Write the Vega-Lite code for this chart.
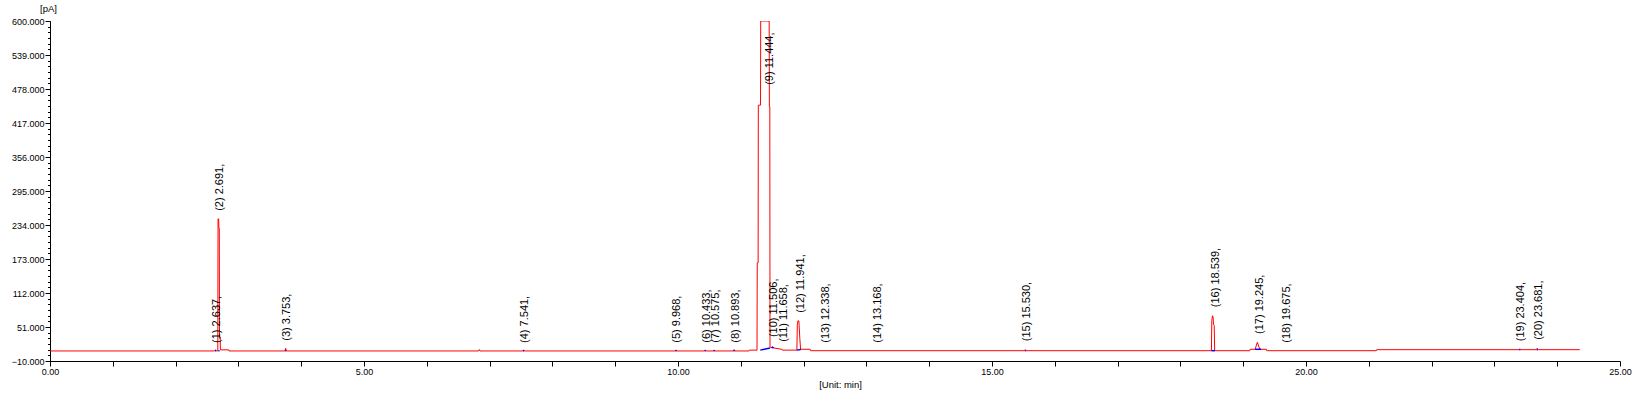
{
  "$schema": "https://vega.github.io/schema/vega-lite/v6.json",
  "width": 1570,
  "height": 340,
  "autosize": {"type": "none"},
  "padding": {"left": 50, "top": 21, "right": 16, "bottom": 34},
  "background": "white",
  "config": {
    "view": {"stroke": null},
    "font": "Liberation Sans",
    "axis": {"grid": false, "domainColor": "black", "tickColor": "black", "labelColor": "black", "titleColor": "black", "labelFont": "Liberation Sans", "titleFont": "Liberation Sans", "titleFontWeight": "normal"}
  },
  "datasets": {
    "trace": [
      {"t":0,"v":8},{"t":2.62,"v":8},{"t":2.635,"v":10},{"t":2.65,"v":8.5},{"t":2.672,"v":8},
      {"t":2.676,"v":245},{"t":2.686,"v":245},{"t":2.689,"v":228},{"t":2.696,"v":228},{"t":2.699,"v":33},
      {"t":2.71,"v":33},{"t":2.713,"v":10},{"t":2.848,"v":10},{"t":2.851,"v":8},
      {"t":3.74,"v":8},{"t":3.753,"v":13},{"t":3.766,"v":8},
      {"t":6.825,"v":8},{"t":6.836,"v":10.5},{"t":6.847,"v":8},
      {"t":7.53,"v":8},{"t":7.541,"v":10},{"t":7.552,"v":8},
      {"t":9.957,"v":8},{"t":9.968,"v":10},{"t":9.979,"v":8},
      {"t":10.422,"v":8},{"t":10.433,"v":10},{"t":10.444,"v":8},
      {"t":10.564,"v":8},{"t":10.575,"v":10},{"t":10.586,"v":8},
      {"t":10.88,"v":8},{"t":10.893,"v":10.5},{"t":10.906,"v":8},
      {"t":11.13,"v":8},{"t":11.136,"v":9.5},{"t":11.258,"v":9.5},
      {"t":11.262,"v":166},{"t":11.276,"v":166},{"t":11.279,"v":449},{"t":11.314,"v":449},
      {"t":11.317,"v":600},{"t":11.452,"v":600},{"t":11.455,"v":446},{"t":11.462,"v":446},
      {"t":11.465,"v":15},{"t":11.49,"v":14},{"t":11.505,"v":16},{"t":11.52,"v":13.5},
      {"t":11.655,"v":11},{"t":11.66,"v":9.5},
      {"t":11.893,"v":9.5},{"t":11.9,"v":55},{"t":11.91,"v":62},{"t":11.925,"v":62},{"t":11.94,"v":30},
      {"t":11.952,"v":11},{"t":12.105,"v":11},{"t":12.11,"v":8.5},
      {"t":15.52,"v":8.5},{"t":15.53,"v":10.5},{"t":15.54,"v":8.5},
      {"t":18.494,"v":8.5},{"t":18.5,"v":62},{"t":18.51,"v":71},{"t":18.52,"v":70},{"t":18.527,"v":56},
      {"t":18.538,"v":54},{"t":18.546,"v":9},{"t":18.552,"v":8.5},
      {"t":19.105,"v":8.5},{"t":19.11,"v":11},{"t":19.19,"v":11},{"t":19.225,"v":23.5},{"t":19.265,"v":11},
      {"t":19.37,"v":11},{"t":19.375,"v":8.5},
      {"t":21.12,"v":8.5},{"t":21.125,"v":10.3},
      {"t":23.39,"v":10.3},{"t":23.404,"v":12},{"t":23.418,"v":10.3},
      {"t":23.665,"v":10.3},{"t":23.681,"v":13},{"t":23.697,"v":10.3},
      {"t":24.36,"v":10.3}
    ],
    "base": [
      {"seg":1,"t":2.627,"v":8.5},{"seg":1,"t":2.647,"v":8.5},
      {"seg":2,"t":2.68,"v":8.5},{"seg":2,"t":2.7,"v":8.5},
      {"seg":3,"t":3.745,"v":8.5},{"seg":3,"t":3.762,"v":8.5},
      {"seg":4,"t":7.532,"v":8.5},{"seg":4,"t":7.55,"v":8.5},
      {"seg":5,"t":9.96,"v":8.5},{"seg":5,"t":9.977,"v":8.5},
      {"seg":6,"t":10.425,"v":8.5},{"seg":6,"t":10.442,"v":8.5},
      {"seg":7,"t":10.567,"v":8.5},{"seg":7,"t":10.584,"v":8.5},
      {"seg":8,"t":10.884,"v":8.5},{"seg":8,"t":10.902,"v":8.5},
      {"seg":9,"t":11.31,"v":9.5},{"seg":9,"t":11.465,"v":13.5},
      {"seg":10,"t":11.49,"v":14},{"seg":10,"t":11.525,"v":14},
      {"seg":11,"t":11.893,"v":9.5},{"seg":11,"t":11.955,"v":10.5},
      {"seg":12,"t":15.524,"v":8.5},{"seg":12,"t":15.537,"v":8.5},
      {"seg":13,"t":18.494,"v":8.5},{"seg":13,"t":18.55,"v":8.5},
      {"seg":14,"t":19.19,"v":11},{"seg":14,"t":19.285,"v":11},
      {"seg":15,"t":23.396,"v":10.3},{"seg":15,"t":23.412,"v":10.3},
      {"seg":16,"t":23.673,"v":10.3},{"seg":16,"t":23.69,"v":10.3}
    ],
    "peaks": [
      {"t":2.637,"v":9,"label":"(1) 2.637,"},
      {"t":2.691,"v":246,"label":"(2) 2.691,"},
      {"t":3.753,"v":13,"label":"(3) 3.753,"},
      {"t":7.541,"v":9,"label":"(4) 7.541,"},
      {"t":9.968,"v":9.4,"label":"(5) 9.968,"},
      {"t":10.433,"v":9.4,"label":"(6) 10.433,"},
      {"t":10.575,"v":9.4,"label":"(7) 10.575,"},
      {"t":10.893,"v":9.4,"label":"(8) 10.893,"},
      {"t":11.444,"v":472,"label":"(9) 11.444,"},
      {"t":11.506,"v":19.5,"label":"(10) 11.506,"},
      {"t":11.658,"v":11,"label":"(11) 11.658,"},
      {"t":11.941,"v":63,"label":"(12) 11.941,"},
      {"t":12.338,"v":9.4,"label":"(13) 12.338,"},
      {"t":13.168,"v":9.4,"label":"(14) 13.168,"},
      {"t":15.53,"v":12,"label":"(15) 15.530,"},
      {"t":18.539,"v":73,"label":"(16) 18.539,"},
      {"t":19.245,"v":25,"label":"(17) 19.245,"},
      {"t":19.675,"v":9.4,"label":"(18) 19.675,"},
      {"t":23.404,"v":12,"label":"(19) 23.404,"},
      {"t":23.681,"v":14.6,"label":"(20) 23.681,"}
    ]
  },
  "resolve": {"axis": {"x": "independent", "y": "independent"}},
  "layer": [
    {
      "data": {"name": "trace"},
      "mark": {"type": "line", "color": "#FF0000", "strokeWidth": 1, "clip": true},
      "encoding": {
        "x": {"field": "t", "type": "quantitative", "scale": {"domain": [0, 25], "nice": false, "zero": false},
          "axis": {"orient": "bottom", "values": [0,1,2,3,4,5,6,7,8,9,10,11,12,13,14,15,16,17,18,19,20,21,22,23,24,25],
            "labelExpr": "datum.value % 5 === 0 ? format(datum.value, '.2f') : ''",
            "tickSize": 5, "labelPadding": 1, "labelFontSize": 9, "labelFlush": false, "labelOverlap": false,
            "title": "[Unit: min]", "titleFontSize": 9.5, "titleX": 790, "titleY": 23, "titleAlign": "center", "titleBaseline": "middle"}},
        "y": {"field": "v", "type": "quantitative", "scale": {"domain": [-10, 600], "nice": false, "zero": false},
          "axis": {"orient": "left", "values": [-10,51,112,173,234,295,356,417,478,539,600], "format": ".3f",
            "tickSize": 5, "labelPadding": 1, "labelFontSize": 9, "labelOverlap": false, "labelFlush": false,
            "title": "[pA]", "titleAngle": 0, "titleFontSize": 9.5, "titleX": -2, "titleY": -13, "titleAlign": "center", "titleBaseline": "middle"}}
      }
    },
    {
      "data": {"name": "base"},
      "mark": {"type": "line", "color": "#0000FF", "strokeWidth": 1.5, "clip": true},
      "encoding": {
        "x": {"field": "t", "type": "quantitative", "axis": null},
        "y": {"field": "v", "type": "quantitative",
          "axis": {"orient": "left", "values": [-10,0.1667,10.3333,20.5,30.6667,40.8333,51,61.1667,71.3333,81.5,91.6667,101.8333,112,122.1667,132.3333,142.5,152.6667,162.8333,173,183.1667,193.3333,203.5,213.6667,223.8333,234,244.1667,254.3333,264.5,274.6667,284.8333,295,305.1667,315.3333,325.5,335.6667,345.8333,356,366.1667,376.3333,386.5,396.6667,406.8333,417,427.1667,437.3333,447.5,457.6667,467.8333,478,488.1667,498.3333,508.5,518.6667,528.8333,539,549.1667,559.3333,569.5,579.6667,589.8333,600],
            "labels": false, "domain": false, "tickSize": 2.5, "title": null}},
        "detail": {"field": "seg", "type": "nominal"}
      }
    },
    {
      "data": {"name": "peaks"},
      "mark": {"type": "text", "angle": 270, "align": "left", "baseline": "middle", "dx": 7.5, "dy": 1.5, "fontSize": 11, "font": "Liberation Sans", "color": "black"},
      "encoding": {
        "x": {"field": "t", "type": "quantitative", "axis": null},
        "y": {"field": "v", "type": "quantitative", "axis": null},
        "text": {"field": "label", "type": "nominal"}
      }
    }
  ]
}
